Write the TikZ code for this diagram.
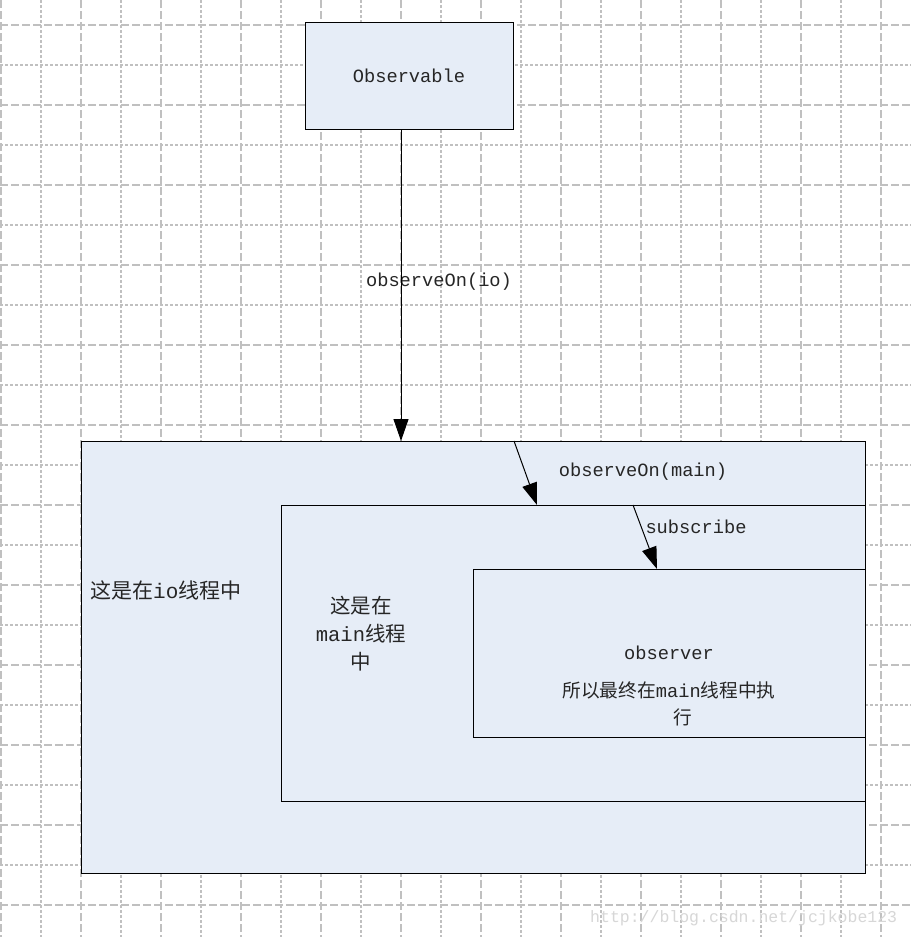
\documentclass[tikz,border=0pt]{standalone}
\usepackage{fontspec}
\setmonofont{Liberation Mono}
\newfontfamily\cjk{Noto Sans CJK SC}
\usetikzlibrary{arrows.meta}
\definecolor{boxfill}{RGB}{230,237,247}
\definecolor{gridgray}{RGB}{192,192,192}
\definecolor{wmgray}{RGB}{215,215,215}
\tikzset{
  gridmajor/.style={draw=gridgray, line width=1.8pt, dash pattern=on 8pt off 3pt},
  gridminor/.style={draw=gridgray, line width=1.8pt, dash pattern=on 2.5pt off 2.5pt},
  box/.style={draw=black, line width=1pt, fill=boxfill, rectangle, anchor=north west, inner sep=0pt, outer sep=0pt},
  arr/.style={draw=black, line width=1pt, -{Triangle[length=22pt,width=15pt]}},
  lbl/.style={font=\fontsize{18.7pt}{27pt}\selectfont\ttfamily, inner sep=0pt, text=black!85},
}
\begin{document}
\begin{tikzpicture}[x=1pt,y=-1pt]
\useasboundingbox (0,0) rectangle (911,937);
\begin{scope}
\clip (0,0) rectangle (911,937);
\fill[white] (0,0) rectangle (911,937);
\foreach \k in {0,...,11} {
  \draw[gridmajor] ({1+80*\k},0) -- ({1+80*\k},937);
  \draw[gridmajor] (0,{25+80*\k}) -- (911,{25+80*\k});
}
\foreach \k in {0,...,10} {
  \draw[gridminor] ({41+80*\k},0) -- ({41+80*\k},937);
  \draw[gridminor] (0,{65+80*\k}) -- (911,{65+80*\k});
}
\end{scope}

% boxes
\node[box, minimum width=208pt, minimum height=107pt] (obs) at (305,22) {};
\node[box, minimum width=784pt, minimum height=432pt] (outer) at (81,441) {};
\node[box, minimum width=584pt, minimum height=296pt] (mid) at (281,505) {};
\node[box, minimum width=392pt, minimum height=168pt] (inner) at (473,569) {};

% texts
\node[lbl] (tobs) at (obs.center) {Observable};
\node[lbl] (tio) at (439,282) {observeOn(io)};
\node[lbl] (tmain) at (643,472) {observeOn(main)};
\node[lbl] (tsub) at (696,527) {subscribe};
\node[lbl, anchor=west, font=\fontsize{21pt}{27pt}\selectfont\ttfamily] (touter) at (90,590) {{\cjk 这是在}io{\cjk 线程中}};
\node[lbl, align=center, font=\fontsize{20.5pt}{28pt}\selectfont\ttfamily] (tmid) at (361,634) {{\cjk 这是在}\\main{\cjk 线程}\\{\cjk 中}};
\node[lbl] (tobsr) at (669,653) {observer};
\node[lbl, align=center] (tinner) at (669,704) {{\cjk 所以最终在}main{\cjk 线程中执}\\\hspace*{28pt}{\cjk 行}};

% arrows
\draw[arr] ([xshift=96pt]obs.south west) -- ([xshift=320pt]outer.north west);
\draw[arr] ([xshift=433pt]outer.north west) -- ([xshift=256pt]mid.north west);
\draw[arr] ([xshift=352pt]mid.north west) -- ([xshift=184pt]inner.north west);

% watermark
\node[font=\fontsize{16.5pt}{20pt}\selectfont\ttfamily, text=wmgray, inner sep=0pt, anchor=west] (wm) at (590,918) {http://blog.csdn.net/jcjkobe123};
\end{tikzpicture}
\end{document}
